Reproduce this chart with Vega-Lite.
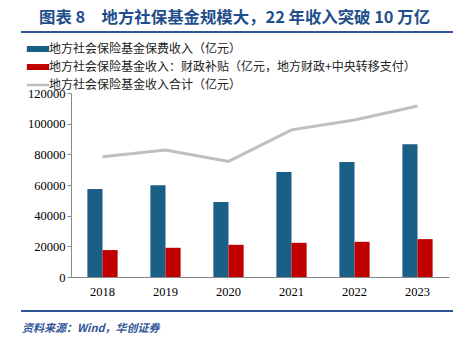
{
  "$schema": "https://vega.github.io/schema/vega-lite/v6.json",
  "background": "white",
  "padding": {"left": 20, "top": 9, "right": 4, "bottom": 18},
  "spacing": 34,
  "bounds": "flush",
  "config": {
    "view": {"stroke": null},
    "font": "Liberation Serif",
    "axisY": {"labelOverlap": false, "labelFont": "Liberation Serif", "labelFontSize": 12.5, "labelColor": "#000000", "labelPadding": 2, "grid": false, "domainColor": "#888888", "tickColor": "#888888", "tickSize": 4, "title": null},
    "axisX": {"labelFont": "Liberation Serif", "labelFontSize": 12.5, "labelColor": "#000000", "labelPadding": 8, "ticks": false, "domainColor": "#888888", "labelAngle": 0, "title": null}
  },
  "datasets": {
    "bars": [
      {"year": "2018", "series": "地方社会保险基金保费收入（亿元）", "value": 57400},
      {"year": "2019", "series": "地方社会保险基金保费收入（亿元）", "value": 59800},
      {"year": "2020", "series": "地方社会保险基金保费收入（亿元）", "value": 48950},
      {"year": "2021", "series": "地方社会保险基金保费收入（亿元）", "value": 68450},
      {"year": "2022", "series": "地方社会保险基金保费收入（亿元）", "value": 74950},
      {"year": "2023", "series": "地方社会保险基金保费收入（亿元）", "value": 86650},
      {"year": "2018", "series": "地方社会保险基金收入：财政补贴（亿元，地方财政+中央转移支付）", "value": 17550},
      {"year": "2019", "series": "地方社会保险基金收入：财政补贴（亿元，地方财政+中央转移支付）", "value": 19050},
      {"year": "2020", "series": "地方社会保险基金收入：财政补贴（亿元，地方财政+中央转移支付）", "value": 21000},
      {"year": "2021", "series": "地方社会保险基金收入：财政补贴（亿元，地方财政+中央转移支付）", "value": 22300},
      {"year": "2022", "series": "地方社会保险基金收入：财政补贴（亿元，地方财政+中央转移支付）", "value": 22950},
      {"year": "2023", "series": "地方社会保险基金收入：财政补贴（亿元，地方财政+中央转移支付）", "value": 24700}
    ],
    "total": [
      {"year": "2018", "total": 78400},
      {"year": "2019", "total": 82750},
      {"year": "2020", "total": 75400},
      {"year": "2021", "total": 95950},
      {"year": "2022", "total": 102450},
      {"year": "2023", "total": 111550}
    ],
    "edge": [{"a": 0, "b": 1}]
  },
  "vconcat": [
    {
      "width": 378,
      "height": 27,
      "data": {"name": "edge"},
      "mark": {"type": "rule", "color": "#2F5597", "strokeWidth": 2},
      "encoding": {
        "x": {"field": "a", "type": "quantitative", "scale": {"domain": [0, 1], "range": [-50, 382]}, "axis": null},
        "x2": {"field": "b"},
        "y": {"field": "b", "type": "quantitative", "scale": {"domain": [0, 1]}, "axis": null}
      },
      "title": {
        "text": "图表 8　地方社保基金规模大，22 年收入突破 10 万亿",
        "anchor": "start",
        "dx": 19,
        "font": "Noto Sans CJK SC",
        "fontSize": 16.4,
        "fontWeight": "bold",
        "color": "#1F4E8C",
        "baseline": "bottom",
        "offset": -11
      }
    },
    {
      "width": 378,
      "height": 184,
      "layer": [
        {
          "data": {"name": "bars"},
          "mark": {"type": "bar"},
          "encoding": {
            "x": {
              "field": "year",
              "type": "nominal",
              "scale": {"paddingInner": 0.52, "paddingOuter": 0.26}
            },
            "xOffset": {"field": "series", "type": "nominal", "scale": {"domain": ["地方社会保险基金保费收入（亿元）", "地方社会保险基金收入：财政补贴（亿元，地方财政+中央转移支付）"], "paddingInner": 0, "paddingOuter": 0}},
            "y": {
              "field": "value",
              "type": "quantitative",
              "scale": {"domain": [0, 120000], "nice": false},
              "axis": {"values": [0, 20000, 40000, 60000, 80000, 100000, 120000], "format": "d"}
            },
            "color": {
              "field": "series",
              "type": "nominal",
              "scale": {
                "domain": ["地方社会保险基金保费收入（亿元）", "地方社会保险基金收入：财政补贴（亿元，地方财政+中央转移支付）", "地方社会保险基金收入合计（亿元）"],
                "range": ["#1A5F85", "#C00000", "#BFBFBF"]
              },
              "legend": {
                "title": null,
                "orient": "none",
                "legendX": -39,
                "legendY": 11,
                "symbolType": "stroke",
                "symbolSize": 500,
                "labelFont": "Noto Sans CJK SC",
                "labelFontSize": 12,
                "labelColor": "#222222",
                "labelLimit": 500,
                "labelOffset": 5,
                "rowPadding": -7.5,
                "encode": {
                  "symbols": {
                    "update": {
                      "stroke": {"scale": "color", "field": "value"},
                      "strokeWidth": {"signal": "datum.value === '地方社会保险基金收入合计（亿元）' ? 2.5 : 6"},
                      "opacity": {"value": 1}
                    }
                  }
                }
              }
            }
          }
        },
        {
          "data": {"name": "total"},
          "mark": {"type": "line", "strokeWidth": 3},
          "encoding": {
            "x": {"field": "year", "type": "nominal"},
            "y": {"field": "total", "type": "quantitative", "axis": {"values": [0, 20000, 40000, 60000, 80000, 100000, 120000], "format": "d"}},
            "color": {"datum": "地方社会保险基金收入合计（亿元）"}
          }
        }
      ]
    },
    {
      "width": 378,
      "height": 1,
      "data": {"name": "edge"},
      "mark": {"type": "rule", "color": "#2F5597", "strokeWidth": 2},
      "encoding": {
        "x": {"field": "a", "type": "quantitative", "scale": {"domain": [0, 1], "range": [-50, 382]}, "axis": null},
        "x2": {"field": "b"},
        "y": {"field": "b", "type": "quantitative", "scale": {"domain": [0, 1]}, "axis": null}
      },
      "title": {
        "text": "资料来源：Wind，华创证券",
        "orient": "bottom",
        "anchor": "start",
        "dx": 2,
        "font": "Noto Sans CJK SC",
        "fontStyle": "italic",
        "fontSize": 11,
        "color": "#2F5597",
        "offset": 11
      }
    }
  ]
}
